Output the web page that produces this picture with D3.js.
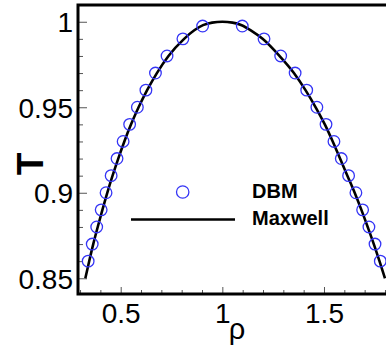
<!DOCTYPE html>
<html>
<head>
<meta charset="utf-8">
<script src="https://cdn.jsdelivr.net/npm/d3@7"></script>
<style>
  body { margin: 0; background: #fff; }
  svg { display: block; font-family: "Liberation Sans", Arial, sans-serif; }
</style>
</head>
<body>
<div id="chart"></div>
<script>
"use strict";

// Data
// ----

// DBM simulation: vapour branch, then liquid branch
var dbmRho = [0.340, 0.360, 0.382, 0.404, 0.428, 0.453, 0.482, 0.512, 0.544, 0.582,
              0.624, 0.671, 0.728, 0.806, 0.903,
              1.098, 1.205, 1.287, 1.358, 1.415, 1.465, 1.510, 1.549, 1.585,
              1.621, 1.657, 1.690, 1.721, 1.751, 1.777];
var dbmT   = [0.86, 0.87, 0.88, 0.89, 0.90, 0.91, 0.92, 0.93, 0.94, 0.95,
              0.96, 0.97, 0.98, 0.99, 0.9975,
              0.9975, 0.99, 0.98, 0.97, 0.96, 0.95, 0.94, 0.93, 0.92,
              0.91, 0.90, 0.89, 0.88, 0.87, 0.86];

// Maxwell construction
var maxRho = [0.326, 0.345, 0.365, 0.387, 0.410, 0.434, 0.460, 0.488, 0.518, 0.551,
              0.588, 0.630, 0.678, 0.735, 0.812, 0.862, 0.905, 0.950, 1.000,
              1.050, 1.095, 1.140, 1.198, 1.281, 1.352, 1.409, 1.459, 1.504,
              1.543, 1.579, 1.615, 1.651, 1.684, 1.715, 1.745, 1.773, 1.800];
var maxT   = [0.85, 0.86, 0.87, 0.88, 0.89, 0.90, 0.91, 0.92, 0.93, 0.94,
              0.95, 0.96, 0.97, 0.98, 0.99, 0.995, 0.998, 0.9995, 1.000,
              0.9995, 0.998, 0.995, 0.99, 0.98, 0.97, 0.96, 0.95, 0.94,
              0.93, 0.92, 0.91, 0.90, 0.89, 0.88, 0.87, 0.86, 0.85];

var xTicks = [0.5, 1, 1.5];
var xMinor = [0.3, 0.4, 0.6, 0.7, 0.8, 0.9, 1.1, 1.2, 1.3, 1.4, 1.6, 1.7, 1.8];
var yTicks = [0.85, 0.9, 0.95, 1];
var yMinor = [0.86, 0.87, 0.88, 0.89, 0.91, 0.92, 0.93, 0.94, 0.96, 0.97, 0.98, 0.99];

var legendNames = ["DBM", "Maxwell"];


// Setup
// -----

var W = 386, H = 352,
    mLeft = 78, mTop = 5, mBottom = 294,
    blue = "#3535f5";

var svg = d3.select("#chart").append("svg")
    .attr("width", W)
    .attr("height", H);

var x = d3.scaleLinear().domain([0.29, 1.85]).range([mLeft, mLeft + 1.56 * 203.3]);
var y = d3.scaleLinear().domain([0.8408, 1.0098]).range([mBottom, mTop]);


// Axes
// ----

function styleAxis(g) {
  g.select(".domain").remove();
  g.selectAll(".tick line").attr("stroke", "#555").attr("stroke-width", 1);
  g.selectAll(".tick text")
      .attr("fill", "#000")
      .style("font-size", "28px")
      .style("font-family", "'Liberation Sans', Arial, sans-serif");
}

svg.append("g")
    .attr("transform", "translate(0," + mBottom + ")")
    .call(d3.axisBottom(x).tickValues(xMinor).tickSize(-4).tickFormat(""))
    .call(styleAxis);

svg.append("g")
    .attr("transform", "translate(0," + mBottom + ")")
    .call(d3.axisBottom(x).tickValues(xTicks).tickSize(-7).tickPadding(9)
      .tickFormat(d3.format("")))
    .call(styleAxis)
    .selectAll(".tick text").attr("dy", "0.71em");

svg.append("g")
    .attr("transform", "translate(" + mLeft + ",0)")
    .call(d3.axisLeft(y).tickValues(yMinor).tickSize(-5).tickFormat(""))
    .call(styleAxis);

svg.append("g")
    .attr("transform", "translate(" + mLeft + ",0)")
    .call(d3.axisLeft(y).tickValues(yTicks).tickSize(-9).tickPadding(5)
      .tickFormat(d3.format("")))
    .call(styleAxis)
    .selectAll(".tick text").attr("dy", "0.36em");

// Frame
svg.append("path")
    .attr("d", "M" + W + "," + mTop + "H" + mLeft + "V" + mBottom + "H" + W)
    .attr("fill", "none")
    .attr("stroke", "#000")
    .attr("stroke-width", 3);

// Axis titles
svg.append("text")
    .attr("x", 237)
    .attr("y", 339)
    .attr("text-anchor", "middle")
    .style("font-size", "29px")
    .text("ρ");

svg.append("text")
    .attr("transform", "translate(42.5,164) rotate(-90)")
    .attr("text-anchor", "middle")
    .style("font-size", "37px")
    .style("font-weight", "bold")
    .text("T");


// Curves
// ------

var maxData = maxRho.map(function(r, i) { return [r, maxT[i]]; });
var dbmData = dbmRho.map(function(r, i) { return [r, dbmT[i]]; });

svg.append("path")
    .datum(maxData)
    .attr("fill", "none")
    .attr("stroke", "#000")
    .attr("stroke-width", 2.6)
    .attr("d", d3.line()
      .curve(d3.curveMonotoneX)
      .x(function(d) { return x(d[0]); })
      .y(function(d) { return y(d[1]); }));

svg.append("g").selectAll("circle")
    .data(dbmData)
    .join("circle")
    .attr("cx", function(d) { return x(d[0]); })
    .attr("cy", function(d) { return y(d[1]); })
    .attr("r", 5.8)
    .attr("fill", "none")
    .attr("stroke", blue)
    .attr("stroke-width", 1.3);


// Legend
// ------

var lg = svg.append("g");

lg.append("circle")
    .attr("cx", 182.7).attr("cy", 192)
    .attr("r", 6.2)
    .attr("fill", "none")
    .attr("stroke", blue)
    .attr("stroke-width", 1.3);

lg.append("line")
    .attr("x1", 131).attr("x2", 235)
    .attr("y1", 219.5).attr("y2", 219.5)
    .attr("stroke", "#000")
    .attr("stroke-width", 2.6);

lg.selectAll("text")
    .data(legendNames)
    .join("text")
    .attr("x", 252)
    .attr("y", function(d, i) { return 197.5 + i * 27.5; })
    .style("font-size", "20px")
    .style("font-weight", "bold")
    .text(function(d) { return d; });

</script>
</body>
</html>
